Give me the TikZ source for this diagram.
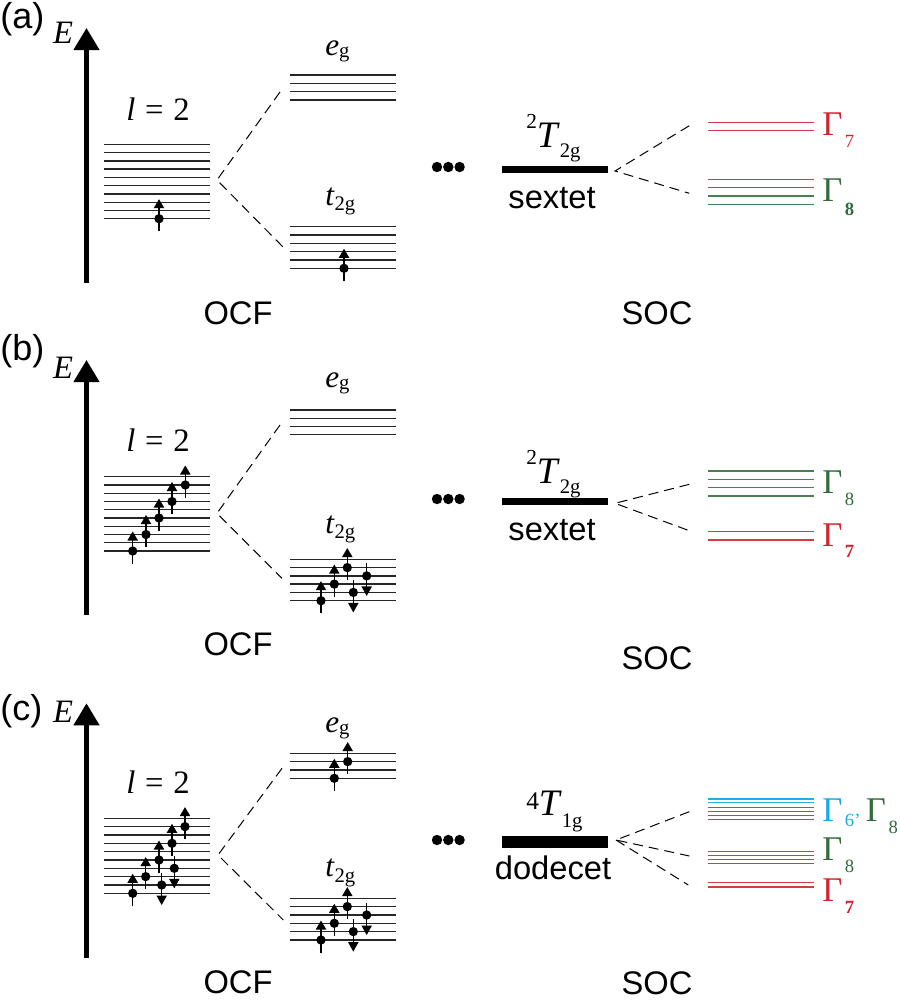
\documentclass[tikz,border=0pt]{standalone}
\usepackage{fontspec}
\setmainfont{Liberation Serif}
\setsansfont{Liberation Sans}
\usetikzlibrary{arrows.meta}
\definecolor{socred}{RGB}{210,35,45}
\definecolor{socgreen}{RGB}{50,108,62}
\definecolor{socblue}{RGB}{22,170,226}
\definecolor{redline}{RGB}{214,58,68}
\definecolor{greenline}{RGB}{72,128,84}
\definecolor{blueline}{RGB}{38,172,228}
\newcommand{\mysb}[3][15.5]{\raisebox{-#2}{\fontsize{#1}{#1}\selectfont #3}}
\newcommand{\elup}[2]{%
  \draw[elec] (#1,#2+12.5) -- (#1,#2-11);
  \fill (#1-5.3,#2-10.5) -- (#1+5.3,#2-10.5) -- (#1,#2-19.5) -- cycle;
  \fill (#1,#2) circle[radius=3.5pt];}
\newcommand{\eldn}[2]{%
  \draw[elec] (#1,#2-12.5) -- (#1,#2+11);
  \fill (#1-5.3,#2+10.5) -- (#1+5.3,#2+10.5) -- (#1,#2+20) -- cycle;
  \fill (#1,#2) circle[radius=3.5pt];}
\newcommand{\lvlr}[6]{\foreach \i in {0,...,#5}{\draw[#6] (#1,#3+\i*#4) -- (#2,#3+\i*#4);}}
\newcommand{\lvll}[4]{\foreach \yy in {#3}{\draw[#4] (#1,\yy) -- (#2,\yy);}}
\newcommand{\trip}[1]{\foreach \xx in {437,448.3,459.6}{\fill (\xx,#1) circle[radius=3.9pt];}}
\tikzset{
  sans/.style={font=\sffamily\fontsize{24.5}{26}\selectfont, inner sep=0pt, anchor=base},
  plab/.style={font=\sffamily\fontsize{27}{28}\selectfont, inner sep=0pt, anchor=base west},
  ser/.style={font=\fontsize{24.5}{26}\selectfont, inner sep=0pt, anchor=base},
  serw/.style={font=\fontsize{23.5}{25}\selectfont, inner sep=0pt, anchor=base west},
  termw/.style={font=\fontsize{28}{29}\selectfont, inner sep=0pt, anchor=base west},
  gam/.style={font=\fontsize{26}{28}\selectfont, inner sep=0pt, anchor=base west},
  lvl/.style={line width=1pt, black!85},
  rlvl/.style={line width=0.95pt, redline},
  glvl/.style={line width=0.95pt, greenline},
  blvl/.style={line width=0.95pt, blueline},
  elec/.style={line width=1.1pt},
  split/.style={dash pattern=on 7.5pt off 4.5pt, line width=0.75pt},
  eaxis/.style={line width=3.4pt, -{Triangle[width=18.75pt,length=16.5pt]}},
}
\begin{document}
\begin{tikzpicture}[x=0.75pt,y=-0.75pt]
\useasboundingbox (0,0) rectangle (900,1000);

% ================= panel (a) =================
\node[plab] (pa) at (0,28.3) {(a)};
\coordinate (abot) at (86.5,283);
\coordinate (atop) at (86.5,28);
\draw[eaxis] (abot) -- (atop);
\node[ser] (Ea) at (63,43.3) {\textit{E}};
\node[ser] (la) at (158,120) {\textit{l}\hspace{0.3em}=\hspace{0.3em}2};
\lvlr{104}{210}{144.3}{8.267}{9}{lvl}
\elup{159}{218.7}
\node[serw] (ega) at (325,55) {\textit{e}\mysb{2pt}{g}};
\lvlr{290}{396}{75}{8.33}{3}{lvl}
\node[serw] (ta) at (325,205) {\textit{t}\mysb{4pt}{2g}};
\lvlr{290}{396}{226.7}{8.33}{5}{lvl}
\elup{344}{268.3}
\coordinate (va) at (217,180);
\coordinate (vau) at (280,92);
\coordinate (vad) at (283,247);
\draw[split] (vau) -- (va) -- (vad);
\trip{167}
\node[termw] (Ta) at (526,147.5) {\raisebox{14pt}{\fontsize{16}{16}\selectfont 2}\textit{T}\mysb{7.5pt}{2g}};
\coordinate (bal) at (502,169.3);
\coordinate (bar) at (607.7,169.3);
\draw[line width=5pt] (bal) -- (bar);
\node[sans] (sxa) at (552,208.3) {sextet};
\coordinate (wa) at (615,171);
\coordinate (wau) at (689.3,125.7);
\coordinate (wad) at (689.3,193.3);
\draw[split] (wau) -- (wa) -- (wad);
\lvll{707.7}{814}{122.3,130.7}{rlvl}
\lvlr{707.7}{814}{179.3}{8.33}{3}{glvl}
\node[gam,text=socred] (g7a) at (822,135) {Γ\hspace{2pt}\mysb[14]{9pt}{7}};
\node[gam,text=socgreen] (g8a) at (822,201.7) {Γ\hspace{2pt}\mysb[14]{10pt}{\textbf{8}}};
\node[sans] (ocfa) at (238,324) {OCF};
\node[sans] (soca) at (657,324) {SOC};

% ================= panel (b) =================
\node[plab] (pb) at (0,360) {(b)};
\coordinate (bbot) at (86.5,615);
\coordinate (btop) at (86.5,360);
\draw[eaxis] (bbot) -- (btop);
\node[ser] (Eb) at (63,378.3) {\textit{E}};
\node[ser] (lb) at (158,451.7) {\textit{l}\hspace{0.3em}=\hspace{0.3em}2};
\lvlr{104}{210}{476.7}{8.26}{9}{lvl}
\elup{132.7}{551}
\elup{146}{534.5}
\elup{159}{518}
\elup{172}{501.5}
\elup{185.3}{485}
\node[serw] (egb) at (325,387) {\textit{e}\mysb{2pt}{g}};
\lvlr{290}{396}{410}{8.2}{3}{lvl}
\node[serw] (tb) at (325,533) {\textit{t}\mysb{4pt}{2g}};
\lvlr{290}{396}{559.3}{8.28}{5}{lvl}
\elup{321}{600.7}
\elup{334.3}{584.1}
\elup{347.3}{567.6}
\eldn{353.3}{592.4}
\eldn{366.7}{575.9}
\coordinate (vb) at (217,513.3);
\coordinate (vbu) at (280,425);
\coordinate (vbd) at (282,578.3);
\draw[split] (vbu) -- (vb) -- (vbd);
\trip{499}
\node[termw] (Tb) at (526,483) {\raisebox{14pt}{\fontsize{16}{16}\selectfont 2}\textit{T}\mysb{7.5pt}{2g}};
\coordinate (bbl) at (502,501.7);
\coordinate (bbr) at (607.7,501.7);
\draw[line width=5pt] (bbl) -- (bbr);
\node[sans] (sxb) at (552,540) {sextet};
\coordinate (wb) at (615,503.3);
\coordinate (wbu) at (689.3,484.3);
\coordinate (wbd) at (689.3,530.7);
\draw[split] (wbu) -- (wb) -- (wbd);
\lvlr{707.7}{814}{471}{8.33}{3}{glvl}
\lvll{707.7}{814}{531.7,540}{rlvl}
\node[gam,text=socgreen] (g8b) at (822,493.3) {Γ\hspace{2pt}\mysb[14]{9pt}{8}};
\node[gam,text=socred] (g7b) at (822,546.7) {Γ\hspace{2pt}\mysb[14]{8pt}{\textbf{7}}};
\node[sans] (ocfb) at (238,655) {OCF};
\node[sans] (socb) at (657,669) {SOC};

% ================= panel (c) =================
\node[plab] (pc) at (0,720) {(c)};
\coordinate (cbot) at (86.5,958);
\coordinate (ctop) at (86.5,703.3);
\draw[eaxis] (cbot) -- (ctop);
\node[ser] (Ec) at (63,722) {\textit{E}};
\node[ser] (lc) at (158,793.3) {\textit{l}\hspace{0.3em}=\hspace{0.3em}2};
\lvlr{104}{210}{818.3}{8.33}{9}{lvl}
\elup{132.7}{893.3}
\elup{145.7}{876.6}
\elup{159}{860}
\elup{172}{843.3}
\elup{185}{826.6}
\eldn{161.7}{885}
\eldn{174.3}{868.3}
\node[serw] (egc) at (325,732) {\textit{e}\mysb{2pt}{g}};
\lvlr{290}{396}{753.3}{8.33}{3}{lvl}
\elup{334.3}{778.3}
\elup{347.7}{761.6}
\node[serw] (tc) at (325,876.7) {\textit{t}\mysb{4pt}{2g}};
\lvlr{290}{396}{898.3}{8.33}{5}{lvl}
\elup{321}{940}
\elup{334.3}{923.3}
\elup{347.3}{906.6}
\eldn{353.3}{931.6}
\eldn{366.7}{915}
\coordinate (vc) at (218,855);
\coordinate (vcu) at (282,768.3);
\coordinate (vcd) at (283.3,920);
\draw[split] (vcu) -- (vc) -- (vcd);
\trip{840}
\node[termw] (Tc) at (526,815) {\raisebox{4.5pt}{\fontsize{19}{19}\selectfont 4}\textit{T}\mysb{9.5pt}{1g}};
\coordinate (bcl) at (502,842);
\coordinate (bcr) at (607.7,842);
\draw[line width=9.2pt] (bcl) -- (bcr);
\node[sans] (dd) at (553,879.3) {dodecet};
\coordinate (wc) at (616,840);
\coordinate (wcu) at (689.3,811.7);
\coordinate (wcm) at (689.3,856);
\coordinate (wcd) at (688.3,885);
\draw[split] (wcu) -- (wc) -- (wcm);
\draw[split] (wc) -- (wcd);
\lvll{707.7}{814}{799,802.7}{blvl}
\lvll{707.7}{814}{807.7,811.6,815.5,819.4}{glvl}
\lvll{707.7}{814}{851.7,855.7,859.7,863.7}{glvl}
\lvll{707.7}{814}{882.7,887}{rlvl}
\node[gam] (g68c) at (822,821.7) {\textcolor{socblue}{Γ\hspace{2pt}\mysb[14]{3.75pt}{6’}}\hspace{4pt}\textcolor{socgreen}{Γ\hspace{2pt}\mysb[14]{9pt}{8}}};
\node[gam,text=socgreen] (g8c) at (822,860) {Γ\hspace{2pt}\mysb[14]{9pt}{8}};
\node[gam,text=socred] (g7c) at (822,901.7) {Γ\hspace{2pt}\mysb[14]{8.5pt}{\textbf{7}}};
\node[sans] (ocfc) at (238,993) {OCF};
\node[sans] (socc) at (657,994) {SOC};
\end{tikzpicture}
\end{document}
